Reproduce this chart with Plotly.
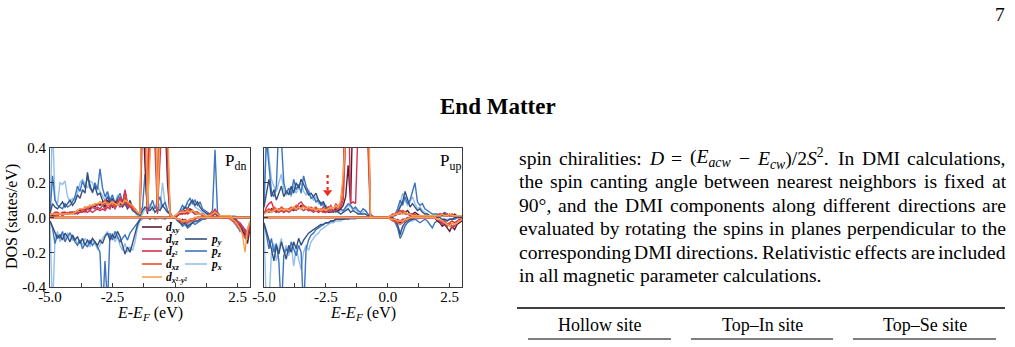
import re
import numpy as np
import plotly.graph_objects as go

W, H = 1015, 347

# ---------------- data (energy grid step 0.1 eV, -5.0 ... 3.0) ----------------
energy = np.round(np.linspace(-5.0, 3.0, 81), 2)

# ---- panel P_dn : positive (spin up) and negative (spin down) PDOS ----
Pdn_dxy_pos = [0.01,0.01,0.01,0.02,0.02,0.02,0.03,0.02,0.03,0.03,
               0.03,0.04,0.04,0.05,0.04,0.06,0.05,0.07,0.06,0.08,
               0.07,0.09,0.06,0.10,0.08,0.06,0.09,0.07,0.11,0.08,
               0.15,0.07,0.09,0.06,0.05,0.03,0.02,0.70,0.30,0.02,
               0.90,0.50,0.80,0.03,0.70,0.95,0.60,0.20,0.02,0.00,
               0.01,0.02,0.03,0.02,0.04,0.03,0.05,0.04,0.03,0.03,
               0.02,0.02,0.01,0.01,0.01,0.02,0.03,0.01,0.01,0.00,
               0.00,0.00,0.01,0.00,0.00,0.00,0.00,0.00,0.00,0.00,
               0.00]
Pdn_dxy_neg = [0,0,0,0,0,0,0,0,0,0,
               0,0,0,0,0,0,0,0,0,0,
               0,0,0,0,0,0,0,0,0,0,
               0,0,0,0,0,0,0,0,0,0,
               0,0,0,0,0,0,0,0,0,0,
               0,-0.01,-0.02,-0.01,-0.02,-0.03,-0.02,-0.01,-0.01,0,
               0,0,0,0,0,0,0,0,0,0,
               0,0,0,0,-0.01,-0.03,-0.05,-0.08,-0.10,-0.15,
               -0.06]
Pdn_dyz_pos = [0.01,0.02,0.01,0.01,0.02,0.01,0.02,0.02,0.02,0.03,
               0.02,0.03,0.03,0.04,0.03,0.05,0.04,0.06,0.05,0.06,
               0.05,0.07,0.05,0.08,0.06,0.07,0.05,0.08,0.06,0.07,
               0.09,0.06,0.07,0.05,0.04,0.03,0.02,0.50,0.80,0.03,
               0.60,0.85,0.40,0.02,0.90,0.60,0.85,0.30,0.01,0.00,
               0.00,0.01,0.02,0.03,0.02,0.03,0.04,0.03,0.02,0.02,
               0.02,0.01,0.01,0.01,0.01,0.01,0.02,0.01,0.00,0.00,
               0.00,0.00,0.00,0.00,0.00,0.00,0.00,0.00,0.00,0.00,
               0.00]
Pdn_dyz_neg = [0,0,0,0,0,0,0,0,0,0,
               0,0,0,0,0,0,0,0,0,0,
               0,0,0,0,0,0,0,0,0,0,
               0,0,0,0,0,0,0,0,0,0,
               0,0,0,0,0,0,0,0,0,0,
               0,-0.01,-0.01,-0.02,-0.01,-0.02,-0.01,-0.01,0,0,
               0,0,0,0,0,0,0,0,0,0,
               0,0,0,0,0,-0.02,-0.03,-0.05,-0.07,-0.09,
               -0.04]
Pdn_dz2_pos = [0.02,0.02,0.03,0.03,0.02,0.03,0.03,0.02,0.03,0.02,
               0.03,0.02,0.03,0.03,0.04,0.03,0.04,0.03,0.04,0.05,
               0.04,0.05,0.04,0.06,0.05,0.10,0.06,0.08,0.12,0.07,
               0.16,0.08,0.06,0.05,0.04,0.03,0.02,0.90,0.60,0.04,
               0.80,0.60,0.95,0.05,0.50,0.80,0.90,0.40,0.03,0.00,
               0.00,0.01,0.02,0.02,0.03,0.02,0.03,0.04,0.02,0.03,
               0.02,0.02,0.01,0.01,0.02,0.02,0.05,0.02,0.01,0.00,
               0.00,0.00,0.00,0.00,0.00,0.00,0.00,0.00,0.00,0.00,
               0.00]
Pdn_dz2_neg = [0,0,0,0,0,0,0,0,0,0,
               0,0,0,0,0,0,0,0,0,0,
               0,0,0,0,0,0,0,0,0,0,
               0,0,0,0,0,0,0,0,0,0,
               0,0,0,0,0,0,0,0,0,0,
               0,-0.01,-0.02,-0.02,-0.03,-0.02,-0.02,-0.01,-0.01,0,
               0,0,0,0,0,0,0,0,0,0,
               0,0,0,-0.01,-0.02,-0.03,-0.04,-0.06,-0.08,-0.11,
               -0.05]
Pdn_dxz_pos = [0.01,0.02,0.02,0.01,0.02,0.02,0.02,0.03,0.02,0.03,
               0.03,0.04,0.05,0.04,0.06,0.05,0.07,0.06,0.08,0.07,
               0.09,0.07,0.10,0.08,0.07,0.09,0.06,0.08,0.10,0.07,
               0.13,0.08,0.07,0.06,0.04,0.03,0.02,0.80,0.90,0.05,
               0.70,0.90,0.60,0.04,0.80,0.70,0.90,0.50,0.03,0.00,
               0.01,0.02,0.03,0.04,0.03,0.05,0.04,0.04,0.03,0.03,
               0.02,0.02,0.01,0.01,0.02,0.03,0.04,0.02,0.01,0.01,
               0.01,0.01,0.00,0.00,0.00,0.00,0.00,0.00,0.00,0.00,
               0.00]
Pdn_dxz_neg = [0,0,0,0,0,0,0,0,0,0,
               0,0,0,0,0,0,0,0,0,0,
               0,0,0,0,0,0,0,0,0,0,
               0,0,0,0,0,0,0,0,0,0,
               0,0,0,0,0,0,0,0,0,0,
               0,-0.01,-0.02,-0.03,-0.02,-0.03,-0.02,-0.02,-0.01,0,
               0,0,0,0,0,0,0,0,0,0,
               0,0,-0.01,-0.02,-0.03,-0.05,-0.07,-0.09,-0.12,-0.08,
               -0.03]
Pdn_dx2y2_pos = [0.02,0.02,0.02,0.02,0.02,0.02,0.02,0.02,0.02,0.02,
                 0.03,0.04,0.05,0.05,0.06,0.06,0.07,0.07,0.08,0.08,
                 0.09,0.08,0.09,0.07,0.08,0.09,0.08,0.07,0.09,0.08,
                 0.10,0.09,0.08,0.07,0.05,0.03,0.02,0.95,0.85,0.06,
                 0.90,0.70,0.90,0.06,0.85,0.90,0.70,0.60,0.02,0.00,
                 0.01,0.02,0.03,0.03,0.03,0.04,0.03,0.04,0.03,0.02,
                 0.02,0.02,0.01,0.01,0.01,0.02,0.03,0.02,0.01,0.01,
                 0.01,0.01,0.01,0.00,0.00,0.00,0.00,0.00,0.00,0.00,
                 0.00]
Pdn_dx2y2_neg = [0,0,0,0,0,0,0,0,0,0,
                 0,0,0,0,0,0,0,0,0,0,
                 0,0,0,0,0,0,0,0,0,0,
                 0,0,0,0,0,0,0,0,0,0,
                 0,0,0,0,0,0,0,0,0,0,
                 0,-0.01,-0.01,-0.02,-0.02,-0.02,-0.01,-0.01,0,0,
                 0,0,0,0,0,0,0,0,0,0,
                 0,0,0,-0.01,-0.02,-0.04,-0.06,-0.10,-0.20,-0.07,
                 -0.02]
Pdn_py_pos = [0.02,0.08,0.06,0.05,0.07,0.09,0.06,0.08,0.10,0.07,
              0.09,0.13,0.11,0.16,0.14,0.26,0.17,0.15,0.18,0.13,
              0.14,0.10,0.08,0.12,0.09,0.11,0.07,0.10,0.08,0.06,
              0.08,0.05,0.07,0.04,0.03,0.02,0.01,0.04,0.06,0.05,
              0.04,0.06,0.03,0.05,0.04,0.07,0.05,0.03,0.02,0.00,
              0.00,0.01,0.03,0.04,0.06,0.05,0.08,0.10,0.07,0.09,
              0.06,0.04,0.03,0.02,0.02,0.01,0.02,0.01,0.01,0.00,
              0.00,0.00,0.00,0.00,0.00,0.00,0.00,0.00,0.00,0.00,
              0.00]
Pdn_py_neg = [-0.02,-0.05,-0.08,-0.12,-0.10,-0.13,-0.09,-0.11,-0.14,-0.10,
              -0.13,-0.11,-0.15,-0.12,-0.16,-0.13,-0.15,-0.12,-0.14,-0.16,
              -0.13,-0.15,-0.11,-0.09,-0.13,-0.10,-0.12,-0.08,-0.11,-0.16,
              -0.21,-0.17,-0.20,-0.15,-0.10,-0.04,-0.01,0.00,0.00,0.00,
              0.00,0.00,0.00,0.00,0.00,0.00,0.00,0.00,0.00,0.00,
              0.00,-0.01,-0.03,-0.04,-0.03,-0.05,-0.04,-0.03,-0.02,-0.02,
              -0.01,0.00,0.00,0.00,0.00,0.00,0.00,0.00,0.00,0.00,
              0.00,0.00,0.00,0.00,-0.02,-0.03,-0.04,-0.06,-0.07,-0.10,
              -0.04]
Pdn_pz_pos = [0.02,0.24,0.10,0.07,0.06,0.05,0.08,0.06,0.07,0.09,
              0.12,0.18,0.15,0.21,0.17,0.23,0.19,0.14,0.20,0.16,
              0.28,0.17,0.12,0.15,0.10,0.13,0.08,0.11,0.14,0.09,
              0.12,0.07,0.10,0.06,0.04,0.02,0.03,0.06,0.25,0.04,
              0.06,0.10,0.05,0.08,0.12,0.06,0.09,0.04,0.02,0.00,
              0.00,0.02,0.04,0.07,0.05,0.09,0.11,0.08,0.10,0.07,
              0.09,0.05,0.04,0.03,0.02,0.04,0.39,0.03,0.01,0.01,
              0.00,0.00,0.00,0.00,0.00,0.00,0.00,0.00,0.00,0.00,
              0.00]
Pdn_pz_neg = [-0.02,-0.06,-0.15,-0.10,-0.12,-0.08,-0.14,-0.11,-0.09,-0.12,
              -0.14,-0.16,-0.13,-0.18,-0.15,-0.17,-0.13,-0.16,-0.14,-0.17,
              -0.20,-0.55,-0.25,-0.50,-0.09,-0.13,-0.08,-0.11,-0.14,-0.12,
              -0.10,-0.13,-0.09,-0.07,-0.05,-0.03,-0.01,0.00,0.00,0.00,
              -0.01,0.00,-0.01,0.00,0.00,0.00,-0.01,0.00,0.00,0.00,
              0.00,-0.02,-0.03,-0.05,-0.04,-0.06,-0.05,-0.03,-0.04,-0.03,
              -0.02,-0.01,-0.01,0.00,0.00,0.00,0.00,0.00,0.00,0.00,
              0.00,0.00,0.00,-0.01,-0.03,-0.05,-0.08,-0.06,-0.09,-0.12,
              -0.05]
Pdn_px_pos = [0.02,0.55,0.10,0.08,0.20,0.19,0.21,0.12,0.09,0.11,
              0.10,0.14,0.20,0.22,0.19,0.17,0.21,0.20,0.16,0.18,
              0.15,0.12,0.10,0.14,0.09,0.11,0.08,0.13,0.07,0.10,
              0.09,0.06,0.08,0.05,0.03,0.01,0.00,0.02,0.05,0.03,
              0.08,0.04,0.06,0.10,0.05,0.20,0.08,0.04,0.02,0.00,
              0.00,0.01,0.03,0.05,0.06,0.08,0.07,0.09,0.06,0.05,
              0.04,0.03,0.02,0.02,0.01,0.01,0.02,0.03,0.01,0.01,
              0.00,0.00,0.00,0.01,0.01,0.00,0.00,0.00,0.00,0.00,
              0.00]
Pdn_px_neg = [-0.02,-0.55,-0.12,-0.08,-0.14,-0.10,-0.12,-0.09,-0.11,-0.13,
              -0.12,-0.15,-0.13,-0.16,-0.12,-0.14,-0.17,-0.13,-0.15,-0.18,
              -0.16,-0.12,-0.10,-0.08,-0.12,-0.09,-0.14,-0.11,-0.16,-0.19,
              -0.15,-0.20,-0.17,-0.19,-0.14,-0.06,-0.02,-0.01,0.00,0.00,
              -0.01,0.00,0.00,-0.01,0.00,-0.01,0.00,0.00,0.00,0.00,
              0.00,-0.01,-0.02,-0.03,-0.02,-0.04,-0.03,-0.02,-0.03,-0.02,
              -0.02,-0.01,-0.01,0.00,0.00,0.00,0.00,0.00,0.00,0.00,
              0.00,0.00,0.00,-0.02,-0.04,-0.06,-0.05,-0.08,-0.10,-0.06,
              -0.02]

# ---- panel P_up ----
Pup_dxy_pos = [0.03,0.04,0.03,0.05,0.04,0.03,0.04,0.05,0.03,0.04,
               0.04,0.05,0.04,0.06,0.05,0.07,0.06,0.05,0.06,0.05,
               0.05,0.04,0.05,0.04,0.03,0.04,0.03,0.03,0.04,0.05,
               0.04,0.05,0.07,0.12,0.30,0.08,0.70,0.90,0.60,0.85,
               0.95,0.60,0.70,0.02,0.00,0.00,0.00,0.00,0.00,0.00,
               0.00,0.01,0.01,0.02,0.02,0.03,0.04,0.03,0.04,0.02,
               0.02,0.03,0.02,0.01,0.01,0.01,0.01,0.01,0.01,0.01,
               0.01,0.02,0.02,0.02,0.01,0.02,0.01,0.02,0.01,0.01,
               0.01]
Pup_dxy_neg = [0,0,0,0,0,0,0,0,0,0,
               0,0,0,0,0,0,0,0,0,0,
               0,0,0,0,0,0,0,0,0,0,
               0,0,0,0,0,0,0,0,0,0,
               0,0,0,0,0,0,0,0,0,0,
               0,0,-0.01,-0.01,-0.02,-0.03,-0.02,-0.01,-0.01,0,
               0,0,0,0,0,0,0,0,0,0,
               -0.02,-0.03,-0.05,-0.04,-0.06,-0.08,-0.05,-0.07,-0.04,-0.03,
               -0.02]
Pup_dyz_pos = [0.02,0.03,0.04,0.03,0.04,0.03,0.05,0.04,0.03,0.04,
               0.03,0.04,0.05,0.04,0.06,0.05,0.04,0.05,0.04,0.04,
               0.03,0.04,0.03,0.04,0.03,0.03,0.04,0.03,0.04,0.04,
               0.05,0.06,0.10,0.50,0.80,0.40,0.90,0.60,0.80,0.70,
               0.85,0.90,0.40,0.01,0.00,0.00,0.00,0.00,0.00,0.00,
               0.00,0.00,0.01,0.01,0.02,0.02,0.03,0.02,0.02,0.01,
               0.01,0.01,0.01,0.01,0.01,0.01,0.01,0.01,0.01,0.01,
               0.01,0.01,0.02,0.01,0.02,0.01,0.01,0.01,0.01,0.01,
               0.01]
Pup_dyz_neg = [0,0,0,0,0,0,0,0,0,0,
               0,0,0,0,0,0,0,0,0,0,
               0,0,0,0,0,0,0,0,0,0,
               0,0,0,0,0,0,0,0,0,0,
               0,0,0,0,0,0,0,0,0,0,
               0,0,-0.01,-0.02,-0.01,-0.02,-0.01,-0.01,0,0,
               0,0,0,0,0,0,0,0,0,0,
               -0.01,-0.02,-0.04,-0.03,-0.05,-0.04,-0.06,-0.05,-0.03,-0.02,
               -0.01]
Pup_dz2_pos = [0.02,0.06,0.08,0.09,0.05,0.04,0.03,0.04,0.03,0.05,
               0.04,0.05,0.06,0.05,0.08,0.09,0.07,0.05,0.04,0.05,
               0.04,0.05,0.03,0.04,0.06,0.03,0.05,0.07,0.04,0.08,
               0.06,0.09,0.20,0.90,0.75,0.08,0.09,0.08,0.70,0.95,
               0.80,0.90,0.60,0.01,0.00,0.00,0.00,0.00,0.00,0.00,
               0.00,0.01,0.01,0.02,0.03,0.04,0.02,0.03,0.02,0.02,
               0.01,0.02,0.01,0.01,0.01,0.01,0.01,0.01,0.01,0.01,
               0.01,0.01,0.02,0.01,0.01,0.02,0.01,0.01,0.01,0.01,
               0.01]
Pup_dz2_neg = [0,0,0,0,0,0,0,0,0,0,
               0,0,0,0,0,0,0,0,0,0,
               0,0,0,0,0,0,0,0,0,0,
               0,0,0,0,0,0,0,0,0,0,
               0,0,0,0,0,0,0,0,0,0,
               0,-0.01,-0.01,-0.02,-0.03,-0.02,-0.02,-0.01,-0.01,0,
               0,0,0,0,0,0,0,0,0,0,
               -0.01,-0.02,-0.03,-0.02,-0.04,-0.03,-0.02,-0.03,-0.02,-0.01,
               -0.01]
Pup_dxz_pos = [0.03,0.04,0.05,0.04,0.06,0.05,0.04,0.06,0.05,0.04,
               0.05,0.06,0.05,0.07,0.06,0.05,0.07,0.06,0.05,0.06,
               0.05,0.06,0.04,0.05,0.04,0.05,0.06,0.04,0.05,0.06,
               0.05,0.08,0.12,0.60,0.95,0.70,0.85,0.60,0.90,0.75,
               0.80,0.95,0.50,0.02,0.00,0.00,0.00,0.00,0.00,0.00,
               0.00,0.01,0.02,0.02,0.03,0.03,0.04,0.03,0.02,0.02,
               0.02,0.01,0.01,0.01,0.01,0.01,0.01,0.01,0.01,0.01,
               0.01,0.02,0.02,0.01,0.02,0.01,0.02,0.01,0.01,0.01,
               0.01]
Pup_dxz_neg = [0,0,0,0,0,0,0,0,0,0,
               0,0,0,0,0,0,0,0,0,0,
               0,0,0,0,0,0,0,0,0,0,
               0,0,0,0,0,0,0,0,0,0,
               0,0,0,0,0,0,0,0,0,0,
               0,-0.01,-0.02,-0.02,-0.03,-0.04,-0.03,-0.02,-0.01,0,
               0,0,0,0,0,0,0,0,0,0,
               -0.01,-0.02,-0.02,-0.03,-0.04,-0.03,-0.05,-0.04,-0.03,-0.02,
               -0.01]
Pup_dx2y2_pos = [0.02,0.03,0.04,0.03,0.04,0.05,0.04,0.05,0.04,0.05,
                 0.04,0.05,0.06,0.05,0.06,0.05,0.06,0.05,0.06,0.05,
                 0.05,0.04,0.05,0.04,0.05,0.04,0.05,0.06,0.05,0.07,
                 0.06,0.10,0.25,0.95,0.90,0.95,0.90,0.95,0.90,0.95,
                 0.90,0.95,0.90,0.00,0.00,0.00,0.00,0.00,0.00,0.00,
                 0.00,0.01,0.01,0.02,0.02,0.03,0.02,0.03,0.02,0.02,
                 0.01,0.01,0.01,0.01,0.01,0.01,0.01,0.01,0.01,0.01,
                 0.01,0.01,0.02,0.01,0.01,0.02,0.01,0.01,0.01,0.01,
                 0.01]
Pup_dx2y2_neg = [0,0,0,0,0,0,0,0,0,0,
                 0,0,0,0,0,0,0,0,0,0,
                 0,0,0,0,0,0,0,0,0,0,
                 0,0,0,0,0,0,0,0,0,0,
                 0,0,0,0,0,0,0,0,0,0,
                 0,-0.01,-0.01,-0.01,-0.02,-0.02,-0.02,-0.01,-0.01,0,
                 0,0,0,0,0,0,0,0,0,0,
                 -0.01,-0.01,-0.02,-0.03,-0.04,-0.05,-0.03,-0.04,-0.03,-0.02,
                 -0.01]
Pup_py_pos = [0.06,0.15,0.22,0.12,0.16,0.10,0.14,0.18,0.12,0.15,
              0.13,0.18,0.14,0.20,0.17,0.22,0.19,0.16,0.13,0.14,
              0.12,0.14,0.10,0.08,0.09,0.06,0.05,0.04,0.03,0.04,
              0.03,0.02,0.03,0.04,0.05,0.03,0.04,0.03,0.02,0.02,
              0.02,0.02,0.01,0.01,0.00,0.00,0.00,0.00,0.00,0.00,
              0.00,0.00,0.01,0.02,0.03,0.06,0.09,0.15,0.11,0.06,
              0.08,0.06,0.04,0.05,0.03,0.02,0.02,0.01,0.01,0.01,
              0.01,0.01,0.01,0.01,0.01,0.01,0.01,0.01,0.01,0.01,
              0.01]
Pup_py_neg = [-0.03,-0.08,-0.12,-0.18,-0.25,-0.16,-0.21,-0.14,-0.19,-0.24,
              -0.16,-0.20,-0.14,-0.18,-0.12,-0.16,-0.13,-0.11,-0.09,-0.08,
              -0.07,-0.06,-0.05,-0.04,-0.04,-0.03,-0.03,-0.02,-0.02,-0.01,
              -0.01,-0.01,-0.01,0.00,0.00,0.00,0.00,0.00,0.00,0.00,
              0.00,0.00,0.00,0.00,0.00,0.00,0.00,0.00,0.00,0.00,
              0.00,0.00,0.00,-0.02,-0.04,-0.10,-0.05,-0.03,-0.02,-0.01,
              -0.01,0.00,0.00,0.00,0.00,0.00,0.00,0.00,0.00,0.00,
              0.00,0.00,-0.01,-0.01,-0.02,-0.01,-0.01,0.00,0.00,0.00,
              0.00]
Pup_pz_pos = [0.08,0.45,0.30,0.15,0.12,0.18,0.55,0.45,0.20,0.14,
              0.17,0.13,0.22,0.16,0.19,0.14,0.24,0.18,0.15,0.11,
              0.12,0.09,0.10,0.07,0.08,0.05,0.06,0.04,0.05,0.03,
              0.04,0.05,0.04,0.06,0.08,0.07,0.05,0.06,0.04,0.03,
              0.05,0.04,0.02,0.01,0.00,0.00,0.00,0.00,0.00,0.00,
              0.00,0.00,0.01,0.02,0.05,0.10,0.07,0.12,0.08,0.10,
              0.15,0.20,0.09,0.07,0.08,0.05,0.04,0.03,0.02,0.02,
              0.02,0.01,0.02,0.03,0.02,0.01,0.02,0.01,0.01,0.01,
              0.01]
Pup_pz_neg = [-0.04,-0.10,-0.18,-0.12,-0.20,-0.15,-0.25,-0.55,-0.22,-0.18,
              -0.20,-0.14,-0.18,-0.22,-0.16,-0.20,-0.55,-0.18,-0.13,-0.10,
              -0.09,-0.07,-0.06,-0.05,-0.04,-0.03,-0.03,-0.02,-0.02,-0.01,
              -0.01,-0.01,-0.01,-0.01,-0.01,0.00,0.00,0.00,0.00,0.00,
              0.00,0.00,0.00,0.00,0.00,0.00,0.00,0.00,0.00,0.00,
              0.00,0.00,-0.01,-0.03,-0.06,-0.12,-0.09,-0.05,-0.03,-0.02,
              -0.01,-0.01,-0.02,-0.03,-0.02,-0.01,-0.02,-0.04,-0.06,-0.03,
              -0.02,-0.03,-0.02,-0.01,-0.02,-0.01,-0.01,-0.01,0.00,0.00,
              0.00]
Pup_px_pos = [0.05,0.55,0.35,0.22,0.18,0.15,0.20,0.25,0.16,0.13,
              0.15,0.12,0.18,0.14,0.17,0.20,0.15,0.13,0.16,0.12,
              0.10,0.12,0.08,0.09,0.06,0.07,0.05,0.06,0.04,0.05,
              0.03,0.04,0.03,0.05,0.07,0.06,0.04,0.05,0.03,0.02,
              0.03,0.04,0.02,0.01,0.01,0.00,0.00,0.00,0.00,0.00,
              0.00,0.01,0.01,0.02,0.04,0.08,0.14,0.10,0.07,0.09,
              0.12,0.08,0.05,0.06,0.04,0.03,0.02,0.01,0.01,0.01,
              0.01,0.02,0.01,0.02,0.01,0.02,0.01,0.01,0.01,0.01,
              0.01]
Pup_px_neg = [-0.05,-0.55,-0.50,-0.20,-0.15,-0.25,-0.18,-0.12,-0.20,-0.16,
              -0.22,-0.15,-0.28,-0.18,-0.24,-0.30,-0.20,-0.16,-0.19,-0.14,
              -0.12,-0.10,-0.09,-0.07,-0.06,-0.05,-0.04,-0.03,-0.03,-0.02,
              -0.02,-0.02,-0.01,-0.01,-0.01,-0.01,-0.01,-0.01,0.00,0.00,
              0.00,0.00,0.00,0.00,0.00,0.00,0.00,0.00,0.00,0.00,
              0.00,0.00,-0.01,-0.02,-0.05,-0.08,-0.06,-0.04,-0.03,-0.02,
              -0.02,-0.01,-0.01,0.00,0.00,0.00,0.00,0.00,0.00,0.00,
              -0.01,-0.02,-0.03,-0.02,-0.01,-0.01,-0.01,-0.01,0.00,0.00,
              0.00]

x_tick_vals = [-5.0, -3.75, -2.5, -1.25, 0.0, 1.25, 2.5]
x_tick_text = ["-5.0", "", "-2.5", "", "0.0", "", "2.5"]
y_tick_vals = [-0.4, -0.2, 0.0, 0.2, 0.4]
y_tick_text = ["-0.4", "-0.2", "0.0", "0.2", "0.4"]

orbital_labels = {
    "dxy": "<b><i>d</i><sub><i>xy</i></sub></b>",
    "dyz": "<b><i>d</i><sub><i>yz</i></sub></b>",
    "dz2": "<b><i>d</i><sub><i>z</i>²</sub></b>",
    "dxz": "<b><i>d</i><sub><i>xz</i></sub></b>",
    "dx2y2": "<b><i>d</i><sub><i>x</i>²<i>-y</i>²</sub></b>",
    "py": "<b><i>p</i><sub><i>y</i></sub></b>",
    "pz": "<b><i>p</i><sub><i>z</i></sub></b>",
    "px": "<b><i>p</i><sub><i>x</i></sub></b>",
}
colors = {
    "dxy": "#5e1b34", "dyz": "#b4466a", "dz2": "#d8304e", "dxz": "#ee4b32",
    "dx2y2": "#f7a24e", "py": "#34507e", "pz": "#3c74bf", "px": "#93c0ea",
}

panels = {
    "Pdn": {"dxy": (Pdn_dxy_pos, Pdn_dxy_neg), "dyz": (Pdn_dyz_pos, Pdn_dyz_neg),
            "dz2": (Pdn_dz2_pos, Pdn_dz2_neg), "dxz": (Pdn_dxz_pos, Pdn_dxz_neg),
            "dx2y2": (Pdn_dx2y2_pos, Pdn_dx2y2_neg), "py": (Pdn_py_pos, Pdn_py_neg),
            "pz": (Pdn_pz_pos, Pdn_pz_neg), "px": (Pdn_px_pos, Pdn_px_neg)},
    "Pup": {"dxy": (Pup_dxy_pos, Pup_dxy_neg), "dyz": (Pup_dyz_pos, Pup_dyz_neg),
            "dz2": (Pup_dz2_pos, Pup_dz2_neg), "dxz": (Pup_dxz_pos, Pup_dxz_neg),
            "dx2y2": (Pup_dx2y2_pos, Pup_dx2y2_neg), "py": (Pup_py_pos, Pup_py_neg),
            "pz": (Pup_pz_pos, Pup_pz_neg), "px": (Pup_px_pos, Pup_px_neg)},
}
for pn, d in panels.items():
    for k, (a, b) in d.items():
        assert len(a) == 81 and len(b) == 81, (pn, k, len(a), len(b))

draw_order = ["px", "pz", "py", "dxy", "dyz", "dz2", "dxz", "dx2y2"]

SERIF = "Liberation Serif, Times New Roman, serif"

# ---------------- figure ----------------
fig = go.Figure()
for pn, ax in (("Pdn", ("x", "y")), ("Pup", ("x2", "y2"))):
    for orb in draw_order:
        pos, neg = panels[pn][orb]
        for vals in (neg, pos):
            fig.add_trace(go.Scatter(
                x=energy, y=vals, mode="lines", xaxis=ax[0], yaxis=ax[1],
                line=dict(color=colors[orb], width=1.4), showlegend=False,
                hoverinfo="skip"))

# red dotted arrow (panel P_up)
ARROW_E, ARROW_TOP, ARROW_TIP = -2.43, 0.245, 0.13
fig.add_trace(go.Scatter(x=[ARROW_E, ARROW_E], y=[ARROW_TOP, ARROW_TIP + 0.02],
                         mode="lines", xaxis="x2", yaxis="y2",
                         line=dict(color="#ee2a1e", width=2.2, dash="dot"),
                         showlegend=False, hoverinfo="skip"))
fig.add_trace(go.Scatter(x=[ARROW_E], y=[ARROW_TIP + 0.015], mode="markers",
                         xaxis="x2", yaxis="y2",
                         marker=dict(symbol="triangle-down", size=8, color="#ee2a1e"),
                         showlegend=False, hoverinfo="skip"))


def fx(px):
    return px / W


def fy(py):
    return 1 - py / H


Y_DOMAIN = [fy(287), fy(148)]
axis_common = dict(showline=True, mirror=True, linecolor="#3a3a3a", linewidth=1,
                   ticks="inside", ticklen=4, tickcolor="#3a3a3a", showgrid=False,
                   zeroline=False, automargin=False,
                   tickfont=dict(family=SERIF, size=15, color="black"))
fig.update_layout(
    width=W, height=H, margin=dict(l=0, r=0, t=0, b=0, autoexpand=False),
    paper_bgcolor="white", plot_bgcolor="white", showlegend=False,
    xaxis=dict(domain=[fx(50), fx(250)], range=[-5, 3], tickvals=x_tick_vals,
               ticktext=x_tick_text, anchor="y", ticklabelstandoff=-4, **axis_common),
    yaxis=dict(domain=Y_DOMAIN, range=[-0.4, 0.4], tickvals=y_tick_vals,
               ticktext=y_tick_text, anchor="x", **axis_common),
    xaxis2=dict(domain=[fx(264), fx(462)], range=[-5, 3], tickvals=x_tick_vals,
                ticktext=x_tick_text, anchor="y2", ticklabelstandoff=-4, **axis_common),
    yaxis2=dict(domain=Y_DOMAIN, range=[-0.4, 0.4], tickvals=y_tick_vals,
                showticklabels=False, anchor="x2", **axis_common),
)

ann = []
shapes = []


def text(px, py, s, size, xanchor="center", yanchor="middle", angle=0, color="black", family=SERIF):
    ann.append(dict(x=fx(px), y=fy(py), xref="paper", yref="paper", text=s,
                    showarrow=False, xanchor=xanchor, yanchor=yanchor, textangle=angle,
                    borderpad=0, font=dict(family=family, size=size, color=color)))


# axis titles and panel labels
text(12, 217, "DOS (states/eV)", 16, angle=-90)
xtitle = "<i>E</i>-<i>E</i><sub><i>F</i></sub> (eV)"
text(150, 313, xtitle, 16)
text(363, 313, xtitle, 16)
text(235, 162, "P<sub>dn</sub>", 17)
text(450, 162, "P<sub>up</sub>", 17)

# legend (inside panel P_dn)
d_rows = [("dxy", 227), ("dyz", 239), ("dz2", 251), ("dxz", 264), ("dx2y2", 277)]
p_rows = [("py", 239), ("pz", 251), ("px", 264)]
for orb, yy in d_rows:
    shapes.append(dict(type="line", xref="paper", yref="paper", x0=fx(142), x1=fx(162),
                       y0=fy(yy), y1=fy(yy), line=dict(color=colors[orb], width=1.6)))
    text(165, yy + 1, orbital_labels[orb], 11.5, xanchor="left")
for orb, yy in p_rows:
    shapes.append(dict(type="line", xref="paper", yref="paper", x0=fx(185), x1=fx(207),
                       y0=fy(yy), y1=fy(yy), line=dict(color=colors[orb], width=1.6)))
    text(210, yy + 1, orbital_labels[orb], 11.5, xanchor="left")

# ---------------- page text ----------------
text(1000, 15, "7", 19.5)
text(498, 106, "<b>End Matter</b>", 23)

TIMES = dict(a=444, b=500, c=444, d=500, e=444, f=333, g=500, h=500, i=278, j=278,
             k=500, l=278, m=778, n=500, o=500, p=500, q=500, r=333, s=389, t=278,
             u=500, v=500, w=722, x=500, y=500, z=444,
             A=722, B=667, C=667, D=722, E=611, F=556, G=722, H=722, I=333, J=389,
             K=722, L=611, M=889, N=722, O=722, P=556, Q=722, R=667, S=556, T=611,
             U=722, V=722, W=944, X=722, Y=722, Z=611)
TIMES.update({" ": 250, ".": 250, ",": 250, ":": 278, "(": 333, ")": 333, "/": 278,
              "=": 564, "−": 564, "°": 400, "-": 333, "–": 500})
for dgt in "0123456789":
    TIMES[dgt] = 500


def html_width(s, fs):
    tot = 0.0
    for part in re.split(r"(<su[bp]>.*?</su[bp]>)", s):
        scale = 0.7 if part.startswith("<su") else 1.0
        plain = re.sub(r"<[^>]+>", "", part)
        tot += sum(TIMES.get(c, 500) for c in plain) * scale
    return tot / 1000.0 * fs


BODY_FS = 19.6
LEFT, RIGHT = 517.5, 1005.0
body_lines = [
    ["spin", "chiralities:", "<i>D</i>", "=", "(<i>E</i><sub><i>acw</i></sub>", "−",
     "<i>E</i><sub><i>cw</i></sub>)/2<i>S</i><sup>2</sup>.", "In", "DMI", "calculations,"],
    "the spin canting angle between nearest neighbors is fixed at".split(" "),
    "90°, and the DMI components along different directions are".split(" "),
    "evaluated by rotating the spins in planes perpendicular to the".split(" "),
    "corresponding DMI directions. Relativistic effects are included".split(" "),
    "in all magnetic parameter calculations.".split(" "),
]
for li, words in enumerate(body_lines):
    yy = 158 + 23.5 * li
    widths = [html_width(w_, BODY_FS) for w_ in words]
    if li < len(body_lines) - 1:
        gap = (RIGHT - LEFT - sum(widths)) / (len(words) - 1)
    else:
        gap = 0.25 * BODY_FS
    xx = LEFT
    for w_, wd in zip(words, widths):
        text(xx, yy, w_, BODY_FS, xanchor="left")
        xx += wd + gap

# table header
shapes.append(dict(type="line", xref="paper", yref="paper", x0=fx(517), x1=fx(1005),
                   y0=fy(308), y1=fy(308), line=dict(color="black", width=1.3)))
for (a, b), lab in zip([(528, 671), (691, 833), (853, 996)],
                       ["Hollow site", "Top–In site", "Top–Se site"]):
    text((a + b) / 2, 325, lab, 18)
    shapes.append(dict(type="line", xref="paper", yref="paper", x0=fx(a), x1=fx(b),
                       y0=fy(339), y1=fy(339), line=dict(color="black", width=1.1)))

fig.update_layout(annotations=ann, shapes=shapes)
fig.write_html("out.html")
